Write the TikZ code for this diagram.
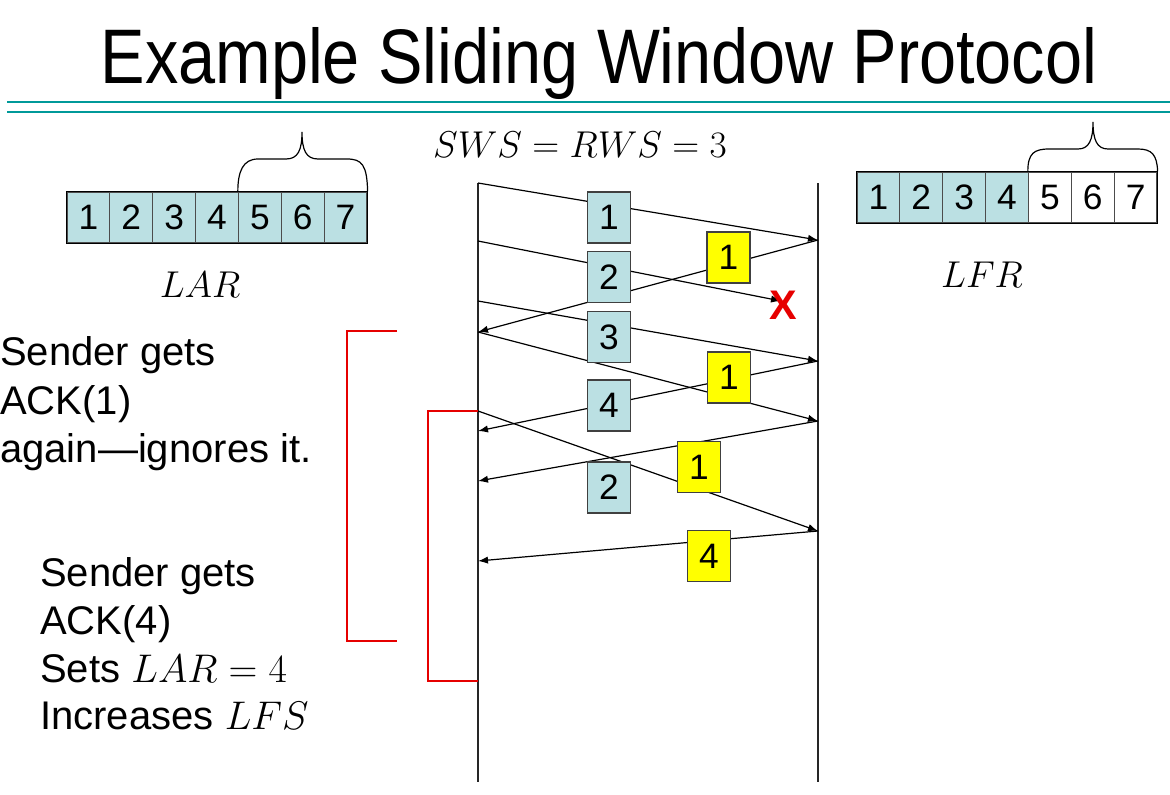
\RequirePackage{fix-cm}
\documentclass[tikz,border=0pt]{standalone}
\usepackage{fontspec}
\setmainfont{Liberation Sans}
\usetikzlibrary{arrows.meta}

\definecolor{cellblue}{RGB}{187,224,227}
\definecolor{ackyellow}{RGB}{255,255,0}
\definecolor{ruleteal}{RGB}{0,153,153}
\definecolor{markred}{RGB}{230,0,0}

\tikzset{
  cell/.style={draw=black!70, line width=0.9pt, minimum width=32.14pt,
    minimum height=38.25pt, inner sep=0pt, font=\fontsize{26.5}{26.5}\selectfont},
  frame/.style={draw=black!75, line width=1.1pt, fill=cellblue, minimum width=32.25pt,
    minimum height=38.25pt, inner sep=0pt, font=\fontsize{26.5}{26.5}\selectfont},
  ack/.style={frame, fill=ackyellow},
  msg/.style={draw=black, line width=0.9pt, -{Latex[length=7.5pt,width=5.5pt]}},
  timeline/.style={draw=black!85, line width=0.8pt},
  bracket/.style={draw=markred, line width=0.8pt},
  bracetip/.style={draw=black, line width=0.9pt},
  mathlabel/.style={font=\fontsize{28}{28}\selectfont},
  note/.style={anchor=base west, inner sep=0pt, font=\fontsize{30}{36}\selectfont}
}

\begin{document}
\begin{tikzpicture}[x=0.75pt, y=-0.75pt]
\useasboundingbox (0,0) rectangle (1170,795);

% heading and double rule
\node[anchor=base, inner sep=0pt, yscale=1.16, transform shape,
  font=\fontsize{50}{56}\selectfont] (title) at (599,84) {Example Sliding Window Protocol};
\draw[ruleteal, line width=1.5pt] (7,102) -- (1170,102);
\draw[ruleteal, line width=1.5pt] (7,112) -- (1170,112);

% sender window
\foreach \i in {1,...,7}
  \node[cell, fill=cellblue] (lar\i) at ({67+42.857*(\i-0.5)},217.5) {\i};
\draw[black, line width=1.2pt] (lar1.north west) rectangle (lar7.south east);
\draw[bracetip] (lar5.north west) .. controls ++(0,-20) and (243,159) .. (258,159)
  -- (286,159) .. controls (298,159) and (302,150) .. (302,132)
  .. controls (302,150) and (306,159) .. (318,159)
  -- (347,159) .. controls (362,159) and (367,165) .. (lar7.north east);
\node[mathlabel] (lar) at (200,285) {$LAR$};

% receiver window
\foreach \i in {1,...,4}
  \node[cell, fill=cellblue] (lfr\i) at ({857+42.857*(\i-0.5)},197.5) {\i};
\foreach \i in {5,6,7}
  \node[cell, fill=white] (lfr\i) at ({857+42.857*(\i-0.5)},197.5) {\i};
\draw[black, line width=1.2pt] (lfr1.north west) rectangle (lfr7.south east);
\draw[bracetip] (lfr5.north west) .. controls ++(0,-18) and (1034,149) .. (1049,149)
  -- (1078,149) .. controls (1089,149) and (1093,140) .. (1093,122)
  .. controls (1093,140) and (1097,149) .. (1108,149)
  -- (1138,149) .. controls (1152,149) and (1157,155) .. (lfr7.north east);
\node[mathlabel] (lfr) at (982,275) {$LFR$};

\node[mathlabel] (sws) at (580,145) {$SWS = RWS = 3$};

% sender and receiver time lines
\coordinate (stop) at (478,183);
\coordinate (sbot) at (478,782);
\coordinate (rtop) at (818,183);
\coordinate (rbot) at (818,782);
\draw[timeline] (stop) -- (sbot);
\draw[timeline] (rtop) -- (rbot);

% end points on the time lines
\coordinate (s1) at (478,183);
\coordinate (s2) at (478,241);
\coordinate (s3) at (478,301);
\coordinate (sA) at (478,332);
\coordinate (sD) at (478,411);
\coordinate (sB) at (478,431);
\coordinate (sC) at (478,481);
\coordinate (sE) at (478,561);
\coordinate (r1) at (818,240);
\coordinate (r3) at (818,361);
\coordinate (r4) at (818,421);
\coordinate (r5) at (818,531);
\coordinate (lost) at (781,301);

% frames and acknowledgements
\draw[msg] (s1) -- (r1);
\draw[msg] (s2) -- (lost);
\draw[msg] (r1) -- (sA);
\draw[msg] (s3) -- (r3);
\draw[msg] (sA) -- (r4);
\draw[msg] (r3) -- (sB);
\draw[msg] (r4) -- (sC);
\draw[msg] (sD) -- (r5);
\draw[msg] (r5) -- (sE);

% frame labels
\node[frame] (f1) at (609,217.5) {1};
\node[frame] (f2) at (609,277) {2};
\node[frame] (f3) at (609,337) {3};
\node[frame] (f4) at (609,405.5) {4};
\node[frame] (f2b) at (609,487.5) {2};
\node[ack] (a1) at (728.5,257.5) {1};
\node[ack] (a1b) at (729,377.5) {1};
\node[ack] (a1c) at (699,467) {1};
\node[ack] (a4) at (709,556) {4};

% lost frame
\node[text=markred, inner sep=0pt, font=\fontsize{31}{31}\selectfont\bfseries] (xmark) at (783,305) {X};

% brackets on the sender side
\coordinate (b1t) at (397,331);
\coordinate (b1b) at (397,641);
\coordinate (b2b) at (478,681);
\draw[bracket] (b1t) -- (347,331) -- (347,641) -- (b1b);
\draw[bracket] (sD) -- (428,411) -- (428,681) -- (b2b);

% notes
\node[note] (n1) at (0,365) {Sender gets};
\node[note] (n2) at (0,414) {ACK(1)};
\node[note] (n3) at (0,462) {again—ignores it.};
\node[note] (n4) at (40,586) {Sender gets};
\node[note] (n5) at (40,634) {ACK(4)};
\node[note] (n6) at (40,682) {Sets $LAR = 4$};
\node[note] (n7) at (40,729) {Increases $LFS$};
\end{tikzpicture}
\end{document}
